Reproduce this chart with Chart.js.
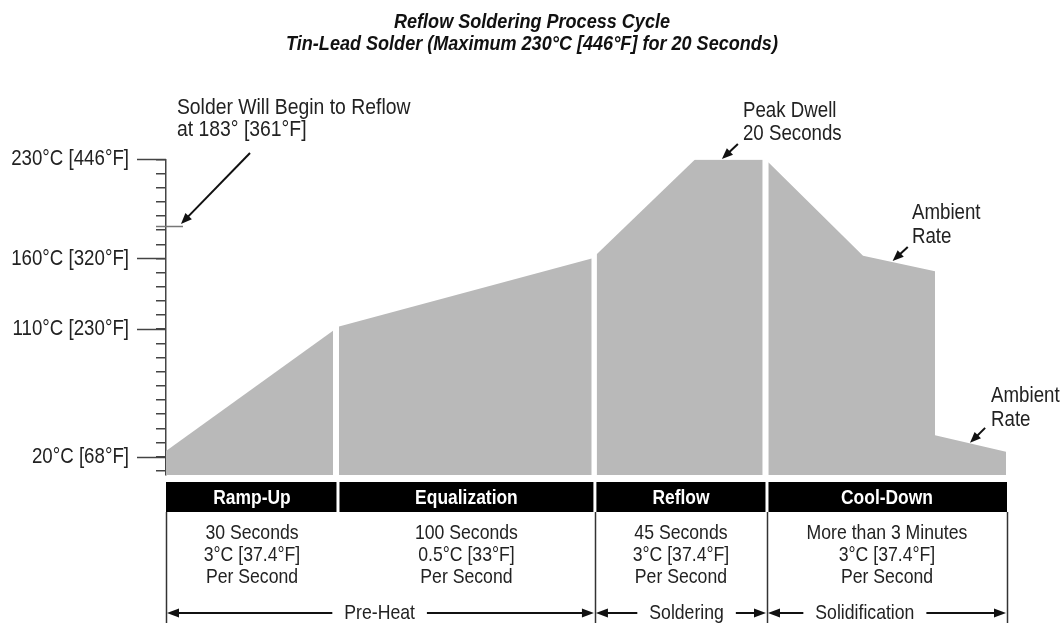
<!DOCTYPE html>
<html>
<head>
<meta charset="utf-8">
<script src="https://cdn.jsdelivr.net/npm/chart.js@4/dist/chart.umd.min.js"></script>
<style>
html,body{margin:0;padding:0;background:#fff;}
#wrap{width:1064px;height:623px;position:relative;}
</style>
</head>
<body>
<div id="wrap"><canvas id="c" width="1064" height="623"></canvas></div>
<script>
// ---------- data ----------
const titleLines = ['Reflow Soldering Process Cycle', 'Tin-Lead Solder (Maximum 230°C [446°F] for 20 Seconds)'];

const phaseNames = ['Ramp-Up', 'Equalization', 'Reflow', 'Cool-Down'];
const phaseEdges = [0, 20.45, 51.0, 71.46, 100];
const phaseDetails = [
  ['30 Seconds', '3°C [37.4°F]', 'Per Second'],
  ['100 Seconds', '0.5°C [33°F]', 'Per Second'],
  ['45 Seconds', '3°C [37.4°F]', 'Per Second'],
  ['More than 3 Minutes', '3°C [37.4°F]', 'Per Second']
];
const stageNames = ['Pre-Heat', 'Soldering', 'Solidification'];
const stageEdges = [0, 51.0, 71.46, 100];
const stageLabelX = [25.4, 61.9, 83.1];

// profile position (schematic units) and temperature (°C)
const rampX = [0, 19.86];                    const rampT = [24, 109];
const equalX = [20.57, 50.62];               const equalT = [112, 160];
const reflowX = [51.21, 62.9, 70.95];        const reflowT = [163, 230, 230];
const coolX = [71.62, 82.88, 91.44, 91.44, 99.88]; const coolT = [228, 162, 151, 35, 23.5];

const tempTicks = [10, 20, 30, 40, 50, 60, 70, 80, 90, 100, 110, 120, 130, 140, 150, 160, 170, 180, 190, 200, 210, 220, 230];
const tempLabelValues = [20, 110, 160, 230];
const tempLabelTexts = ['20°C [68°F]', '110°C [230°F]', '160°C [320°F]', '230°C [446°F]'];
const reflowStartTemp = 183;

// annotations: text anchor (x units, °C) and arrow tail -> tip
const noteTexts = [
  ['Solder Will Begin to Reflow', 'at 183° [361°F]'],
  ['Peak Dwell', '20 Seconds'],
  ['Ambient', 'Rate'],
  ['Ambient', 'Rate']
];
const noteX = [1.3, 68.6, 88.7, 98.1];
const noteT1 = [266.5, 264.2, 192.1, 62.9];
const noteT2 = [250.5, 248.0, 175.2, 46.0];
const arrowFromX = [9.99, 68.0, 88.2, 97.4];
const arrowFromT = [234.5, 240.9, 168.1, 40.3];
const arrowToX = [1.78, 66.1, 86.4, 95.6];
const arrowToT = [184.4, 230.3, 158.2, 29.7];

// ---------- style ----------
const FAMILY = "'Liberation Sans', Arial, sans-serif";
const FILL = '#b9b9b9';
const INK = '#222222';

function pts(xs, ts) { return xs.map((x, i) => ({ x: x, y: ts[i] })); }
function ds(label, xs, ts) {
  return {
    label: label, data: pts(xs, ts), fill: 'start',
    backgroundColor: FILL, borderColor: 'rgba(0,0,0,0)', borderWidth: 0,
    pointRadius: 0, tension: 0
  };
}

// condensed text (reference uses a narrow typeface)
function txt(ctx, s, x, y, font, color, align, sx) {
  ctx.save();
  ctx.font = font;
  ctx.fillStyle = color;
  ctx.textAlign = align;
  ctx.textBaseline = 'middle';
  ctx.translate(x, y);
  ctx.scale(sx, 1);
  ctx.fillText(s, 0, 0);
  ctx.restore();
}
function txtWidth(ctx, s, font, sx) {
  ctx.save(); ctx.font = font; const w = ctx.measureText(s).width * sx; ctx.restore(); return w;
}

function arrowHead(ctx, x0, y0, x1, y1, len, half) {
  const a = Math.atan2(y1 - y0, x1 - x0);
  ctx.beginPath();
  ctx.moveTo(x1, y1);
  ctx.lineTo(x1 - len * Math.cos(a) + half * Math.sin(a), y1 - len * Math.sin(a) - half * Math.cos(a));
  ctx.lineTo(x1 - len * Math.cos(a) - half * Math.sin(a), y1 - len * Math.sin(a) + half * Math.cos(a));
  ctx.closePath();
  ctx.fill();
}
function arrow(ctx, x0, y0, x1, y1, len, half) {
  const a = Math.atan2(y1 - y0, x1 - x0);
  ctx.beginPath();
  ctx.moveTo(x0, y0);
  ctx.lineTo(x1 - (len * 0.8) * Math.cos(a), y1 - (len * 0.8) * Math.sin(a));
  ctx.stroke();
  arrowHead(ctx, x0, y0, x1, y1, len, half);
}

const decor = {
  id: 'decor',
  afterDraw(chart) {
    const ctx = chart.ctx;
    const xs = chart.scales.x, ys = chart.scales.y;
    const X = v => xs.getPixelForValue(v);
    const Y = v => ys.getPixelForValue(v);
    const area = chart.chartArea;
    const cx = chart.width / 2;
    ctx.save();

    // title
    const tFont = "italic bold 21px " + FAMILY;
    txt(ctx, titleLines[0], cx, 22, tFont, '#111', 'center', 0.86);
    txt(ctx, titleLines[1], cx, 44, tFont, '#111', 'center', 0.86);

    // y tick labels (from the scale's own ticks)
    ys.ticks.forEach(t => {
      if (t.label) txt(ctx, t.label, area.left - 37, Y(t.value), "22px " + FAMILY, INK, 'right', 0.85);
    });

    // long ticks for labelled temperatures
    ctx.strokeStyle = '#444';
    ctx.lineWidth = 1.5;
    tempLabelValues.forEach(v => {
      const y = Math.round(Y(v)) + 0.5;
      ctx.beginPath(); ctx.moveTo(area.left - 29, y); ctx.lineTo(area.left, y); ctx.stroke();
    });
    // reflow-start marker tick
    {
      const y = Math.round(Y(reflowStartTemp)) + 0.5;
      ctx.strokeStyle = '#777';
      ctx.beginPath(); ctx.moveTo(area.left - 10, y); ctx.lineTo(area.left + 17, y); ctx.stroke();
    }

    // annotations
    const nFont = "22px " + FAMILY;
    noteTexts.forEach((lines, i) => {
      const sx = i === 0 ? 0.88 : 0.85;
      txt(ctx, lines[0], X(noteX[i]), Y(noteT1[i]), nFont, INK, 'left', sx);
      txt(ctx, lines[1], X(noteX[i]), Y(noteT2[i]), nFont, INK, 'left', sx);
    });
    ctx.strokeStyle = '#111';
    ctx.fillStyle = '#111';
    ctx.lineWidth = 2;
    noteTexts.forEach((_, i) => {
      arrow(ctx, X(arrowFromX[i]), Y(arrowFromT[i]), X(arrowToX[i]), Y(arrowToT[i]), 11, 4.5);
    });

    // phase table
    const top = area.bottom + 7;
    const hh = 30;
    for (let i = 0; i < phaseNames.length; i++) {
      const a = X(phaseEdges[i]), b = X(phaseEdges[i + 1]);
      const x0 = a + (i > 0 ? 1.5 : 0), x1 = b - (i < phaseNames.length - 1 ? 1.5 : 0);
      ctx.fillStyle = '#000';
      ctx.fillRect(x0, top, x1 - x0, hh);
      txt(ctx, phaseNames[i], (a + b) / 2, top + hh / 2 + 1, "bold 21px " + FAMILY, '#fff', 'center', 0.83);
      phaseDetails[i].forEach((t, k) => {
        txt(ctx, t, (a + b) / 2, top + hh + 21 + k * 22, "21px " + FAMILY, INK, 'center', 0.84);
      });
    }
    // vertical separators of stages
    ctx.strokeStyle = '#333';
    ctx.lineWidth = 1.5;
    stageEdges.forEach(e => {
      const x = Math.round(X(e)) + 0.5;
      ctx.beginPath(); ctx.moveTo(x, top + hh); ctx.lineTo(x, chart.height); ctx.stroke();
    });
    // stage arrows
    const ay = top + 131;
    const sFont = "21px " + FAMILY;
    ctx.fillStyle = '#111';
    ctx.strokeStyle = '#111';
    ctx.lineWidth = 2;
    for (let j = 0; j < stageNames.length; j++) {
      const a = X(stageEdges[j]) + 1, b = X(stageEdges[j + 1]) - 1;
      const c = X(stageLabelX[j]);
      const w = txtWidth(ctx, stageNames[j], sFont, 0.84);
      txt(ctx, stageNames[j], c, ay, sFont, INK, 'center', 0.84);
      ctx.fillStyle = '#111';
      arrow(ctx, c - w / 2 - 12, ay, a, ay, 12, 4.5);
      arrow(ctx, c + w / 2 + 12, ay, b, ay, 12, 4.5);
    }
    ctx.restore();
  }
};

new Chart(document.getElementById('c'), {
  type: 'line',
  data: {
    datasets: [
      ds('Ramp-Up', rampX, rampT),
      ds('Equalization', equalX, equalT),
      ds('Reflow', reflowX, reflowT),
      ds('Cool-Down', coolX, coolT)
    ]
  },
  options: {
    responsive: false,
    animation: false,
    devicePixelRatio: 1,
    layout: { padding: { left: 0, right: 57, top: 159.4, bottom: 148 } },
    plugins: {
      legend: { display: false },
      tooltip: { enabled: false },
      title: { display: false }
    },
    scales: {
      x: { type: 'linear', min: 0, max: 100, display: false },
      y: {
        type: 'linear', min: 7, max: 230,
        afterFit(s) { s.width = 166; },
        afterBuildTicks(s) { s.ticks = tempTicks.map(v => ({ value: v })); },
        ticks: {
          autoSkip: false,
          padding: 27,
          color: 'rgba(0,0,0,0)',
          font: { family: FAMILY, size: 18 },
          callback: v => { const k = tempLabelValues.indexOf(v); return k >= 0 ? tempLabelTexts[k] : ''; }
        },
        grid: { drawOnChartArea: false, drawTicks: true, tickLength: 10, color: '#444', lineWidth: 1.5 },
        border: { display: true, color: '#444', width: 1.5 }
      }
    }
  },
  plugins: [decor]
});
</script>
</body>
</html>
